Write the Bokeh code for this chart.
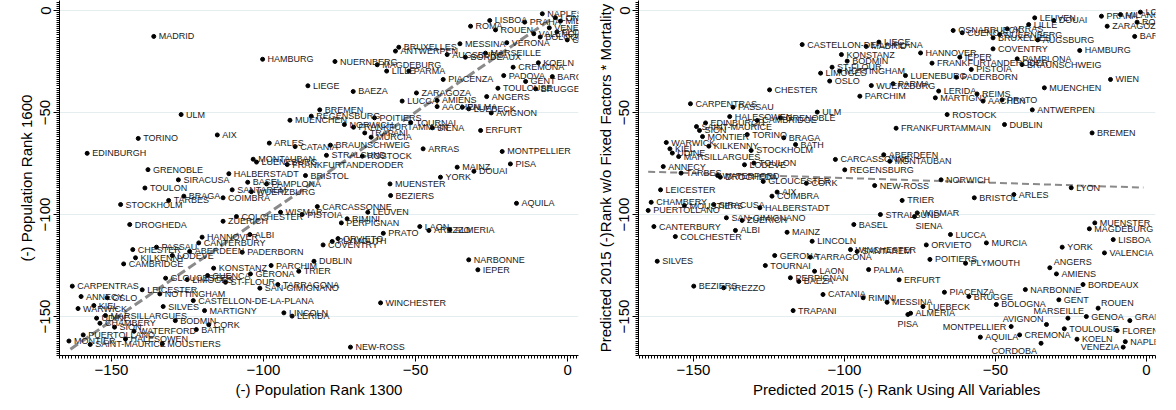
from bokeh.plotting import figure
from bokeh.models import ColumnDataSource, SingleIntervalTicker
from bokeh.layouts import row
from bokeh.core.properties import value
from bokeh.embed import file_html
from bokeh.resources import INLINE

# ---------------- data: left panel (rank 1300 vs rank 1600) ----------------
left_city = [
    "MADRID", "HAMBURG", "NUERNBERG", "LIEGE", "BAEZA", "LUCCA", "BREMEN", "REGENSBURG",
    "MUENCHEN", "NORWICH", "POITIERS", "FRANKFURTAMMAIN", "TOURNAI", "SIENA", "TRAPANI",
    "MURCIA", "ULM", "TORINO", "AIX", "EDINBURGH", "ARLES", "CATANIA", "BRAUNSCHWEIG",
    "STRALSUND", "ROSTOCK", "MONTAUBAN", "LUENEBURG", "FRANKFURTANDERODER", "GRENOBLE",
    "SIRACUSA", "HALBERSTADT", "BRISTOL", "BASEL", "PAMPLONA", "SANTAREM", "WUERZBURG",
    "MUENSTER", "TOULON", "COIMBRA", "BRAGA", "TARBES", "STOCKHOLM", "DROGHEDA", "ZUERICH",
    "COLCHESTER", "WISMAR", "PISTOIA", "CARCASSONNE", "LEUVEN", "RIMINI", "PERPIGNAN",
    "PRATO", "PLYMOUTH", "COVENTRY", "ORVIETO", "ALBI", "HANNOVER", "CANTERBURY", "ABERDEEN",
    "PADERBORN", "KONSTANZ", "PARCHIM", "DUBLIN", "TRIER", "GERONA", "CUENCA", "ST-FLOUR",
    "GLOUCESTER", "LIMOGES", "TARRAGONA", "SAN-GIMIGNANO", "CASTELLON-DE-LA-PLANA",
    "MARTIGNY", "LINCOLN", "LERIDA", "WINCHESTER", "NEW-ROSS", "CORK", "BATH", "BODMIN",
    "SILVES", "NOTTINGHAM", "LEICESTER", "CARPENTRAS", "ANNECY", "OSLO", "KIEL", "WARWICK",
    "UDINE", "MARSILLARGUES", "CHAMBERY", "SION", "WATERFORD", "HALESOWEN", "PUERTOLLANO",
    "MONTIER", "SAINT-MAURICE", "MOUSTIERS", "CHESTER", "PASSAU", "KILKENNY", "LODEVE",
    "CAMBRIDGE", "ROMA", "LISBOA", "ROUEN", "PRAHA", "NAPLES", "MILANO", "LONDON", "VENEZIA",
    "FLORENCE", "VALENCIA", "BOLOGNA", "GENOA", "VERONA", "MESSINA", "BRUXELLES", "ANTWERPEN",
    "AUGSBURG", "MARSEILLE", "BORDEAUX", "MAGDEBURG", "LILLE", "PARMA", "CREMONA", "KOELN",
    "PIACENZA", "PADOVA", "BARCELONA", "GENT", "TOULOUSE", "BRUGGE", "ANGERS", "ZARAGOZA",
    "AMIENS", "AACHEN", "PALMA", "LUEBECK", "AVIGNON", "ERFURT", "ARRAS", "MONTPELLIER",
    "PISA", "MAINZ", "DOUAI", "YORK", "BEZIERS", "AQUILA", "LAON", "AREZZO", "ALMERIA",
    "NARBONNE", "IEPER",
]
left_x = [
    -136.1, -100.3, -76.5, -85.4, -70.5, -54.4, -81.5, -84.3,
    -91.3, -73.4, -63.5, -70.4, -51.6, -44.5, -66.7,
    -64.6, -127.1, -141.2, -115.2, -158.0, -98.1, -89.6, -78.0,
    -79.3, -67.5, -103.4, -102.3, -92.2, -138.0,
    -128.0, -111.4, -86.2, -105.2, -99.0, -110.3, -104.0,
    -58.4, -139.0, -113.3, -126.2, -131.2, -147.0, -144.0, -113.3,
    -108.9, -94.4, -87.3, -82.3, -65.7, -72.5, -74.4,
    -60.6, -77.4, -80.4, -75.5, -104.5, -120.2, -121.3, -124.3,
    -107.0, -116.4, -97.5, -83.4, -88.4, -104.3, -118.4, -112.5,
    -132.2, -125.1, -95.3, -101.2, -123.1,
    -119.4, -93.3, -90.6, -61.5, -71.4, -118.0, -122.1, -129.0,
    -133.0, -134.1, -139.9, -162.9, -160.0, -151.4, -155.8, -161.0,
    -154.9, -152.0, -153.8, -149.0, -142.6, -145.4, -159.3,
    -164.0, -157.0, -133.3, -143.0, -135.2, -142.1, -130.0,
    -146.0, -31.9, -25.6, -23.7, -14.1, -8.3, -2.3, -4.0, -6.0,
    -3.5, -11.1, -9.0, -0.1, -20.0, -35.4, -55.5, -56.6,
    -39.6, -27.0, -33.6, -62.6, -59.5, -52.2, -17.9, -9.6,
    -40.9, -21.0, -5.0, -13.8, -22.9, -10.5, -26.6, -49.7,
    -42.9, -42.9, -34.6, -32.5, -25.1, -28.6, -47.5, -21.5,
    -18.8, -36.3, -30.8, -41.8, -58.2, -16.8, -48.6, -45.6, -38.7,
    -32.5, -29.5,
]
left_y = [
    -12.7, -23.9, -25.0, -36.9, -39.7, -44.4, -48.7, -51.8,
    -53.8, -55.9, -52.6, -57.2, -54.9, -57.5, -60.0,
    -62.1, -51.0, -62.7, -61.0, -70.0, -65.0, -66.7, -66.0,
    -71.0, -71.4, -72.9, -74.3, -75.5, -78.0,
    -83.0, -80.0, -80.9, -84.2, -85.0, -87.9, -88.8,
    -85.0, -87.0, -91.8, -91.0, -93.1, -95.1, -104.9, -103.3,
    -101.0, -98.9, -100.0, -96.1, -98.9, -102.1, -104.1,
    -109.2, -113.2, -114.9, -111.8, -109.8, -111.1, -113.9, -118.1,
    -118.5, -126.3, -125.0, -122.9, -127.8, -129.1, -129.9, -133.2,
    -131.2, -131.9, -134.3, -136.1, -142.2,
    -147.1, -148.2, -149.8, -143.3, -165.0, -154.0, -156.4, -152.0,
    -145.1, -138.9, -136.9, -135.1, -140.2, -140.8, -144.6, -146.1,
    -150.8, -149.5, -153.3, -155.2, -157.2, -161.0, -159.0,
    -162.0, -163.7, -163.4, -117.2, -116.0, -121.2, -120.1,
    -124.2, -7.7, -4.9, -9.5, -5.7, -1.6, -5.2, -3.5, -8.5,
    -10.5, -11.4, -13.0, -14.4, -15.8, -16.3, -18.0, -19.9,
    -21.6, -20.9, -22.9, -26.6, -29.7, -29.7, -27.8, -25.6,
    -33.8, -31.9, -32.4, -34.8, -38.1, -38.4, -42.2, -40.4,
    -44.1, -47.1, -47.4, -48.2, -50.2, -58.8, -67.8, -69.1,
    -75.2, -76.8, -78.8, -81.7, -90.7, -94.5, -105.9, -107.8, -107.5,
    -122.2, -127.1,
]
left_fit_x = [-163.5, -4.6]
left_fit_y = [-166.0, -3.4]

# ---------------- data: right panel (predicted ranks) ----------------
right_city = [
    "CASTELLON-DE-LA-PLANA", "CHESTER", "CARPENTRAS", "PASSAU", "HALESOWEN", "EDINBURGH",
    "CAMBRIDGE", "GRENOBLE", "ULM", "SAINT-MAURICE", "SION", "MONTIER", "TORINO", "BRAGA",
    "BATH", "WARWICK", "KIEL", "UDINE", "KILKENNY", "MARSILLARGUES", "STOCKHOLM", "TOULON",
    "LODEVE", "ANNECY", "TARBES", "DROGHEDA", "WATERFORD", "GLOUCESTER", "CORK", "NEW-ROSS",
    "NORWICH", "CARCASSONNE", "ABERDEEN", "MONTAUBAN", "REGENSBURG", "FRANKFURTAMMAIN",
    "ROSTOCK", "LIEGE", "MADRID", "KONSTANZ", "BODMIN", "ST-FLOUR", "NOTTINGHAM", "LIMOGES",
    "OSLO", "WUERZBURG", "PARMA", "PARCHIM", "LUENEBURG", "HANNOVER", "FRANKFURTANDERODER",
    "IEPER", "OSNABRUECK", "CUENCA", "PISTOIA", "PADERBORN", "LERIDA", "MARTIGNY", "REIMS",
    "AACHEN", "BRUXELLES", "COVENTRY", "LEUVEN", "LILLE", "DOUAI", "ARRAS", "NUERNBERG",
    "AUGSBURG", "HAMBURG", "PAMPLONA", "BRAUNSCHWEIG", "WIEN", "MUENCHEN", "PRATO",
    "ANTWERPEN", "DUBLIN", "BREMEN", "LYON", "PRAHA", "MILANO", "LONDON", "ROMA", "ZARAGOZA",
    "BARCELONA", "LEICESTER", "CHAMBERY", "PUERTOLLANO", "MOUSTIERS", "SIRACUSA",
    "HALBERSTADT", "AIX", "COIMBRA", "SAN-GIMIGNANO", "ZUERICH", "ALBI", "CANTERBURY",
    "COLCHESTER", "MAINZ", "SILVES", "GERONA", "TOURNAI", "PERPIGNAN", "BAEZA", "BEZIERS",
    "AREZZO", "TRAPANI", "LAON", "TARRAGONA", "LINCOLN", "CATANIA", "RIMINI", "MESSINA",
    "LUEBECK", "ALMERIA", "PISA", "WINCHESTER", "SANTAREM", "PALMA", "ERFURT", "BASEL",
    "STRALSUND", "WISMAR", "SIENA", "TRIER", "BRISTOL", "ARLES", "LUCCA", "ORVIETO", "MURCIA",
    "POITIERS", "PLYMOUTH", "PIACENZA", "BRUGGE", "MONTPELLIER", "AQUILA", "CREMONA",
    "CORDOBA", "AVIGNON", "MARSEILLE", "TOULOUSE", "GENOA", "GRANADA", "FLORENCE", "NAPLES",
    "VENEZIA", "KOELN", "GENT", "ROUEN", "BORDEAUX", "NARBONNE", "BOLOGNA", "AMIENS",
    "ANGERS", "YORK", "VALENCIA", "LISBOA", "MUENSTER", "MAGDEBURG",
]
right_x = [
    -114.0, -124.8, -151.0, -136.9, -138.0, -146.0,
    -128.9, -121.2, -109.0, -149.0, -148.0, -147.0, -132.2, -120.1,
    -116.2, -159.0, -157.8, -157.0, -144.9, -154.9, -130.9, -130.0,
    -133.1, -160.0, -154.1, -141.1, -142.0, -126.9, -112.6, -90.0,
    -68.0, -103.0, -87.0, -85.0, -99.9, -82.9,
    -66.0, -88.6, -92.8, -101.0, -99.1, -104.1, -101.6, -107.9,
    -104.9, -91.1, -83.9, -94.9, -79.8, -74.8, -71.0,
    -61.8, -64.0, -61.0, -58.0, -62.9, -68.8, -69.9, -56.1,
    -54.1, -50.8, -50.8, -37.0, -39.0, -30.7, -46.1, -48.6,
    -36.0, -22.1, -42.8, -41.2, -11.9, -33.8, -47.8,
    -37.8, -47.0, -18.0, -24.9, -14.9, -8.6, -2.0, -3.1, -13.0,
    -3.9, -160.9, -164.0, -165.0, -153.0, -143.3,
    -128.0, -122.3, -124.0, -139.1, -133.9, -136.1, -163.1,
    -156.0, -119.0, -162.0, -123.1, -126.2, -117.9, -115.1, -149.9,
    -140.0, -117.0, -109.9, -111.3, -110.7, -107.1, -93.8, -85.9,
    -74.0, -78.1, -79.0, -98.0, -95.8, -92.0, -81.9, -96.9,
    -88.1, -75.9, -76.8, -80.9, -57.0, -43.9, -64.9, -72.9, -53.0,
    -71.7, -59.9, -66.9, -58.8, -44.8, -55.0, -42.0,
    -34.9, -33.1, -26.0, -27.2, -19.9, -5.5, -9.7, -7.0,
    -7.7, -23.0, -29.0, -16.0, -21.0, -40.1, -49.7, -29.8,
    -32.0, -27.9, -13.9, -11.0, -17.1, -18.9,
]
right_y = [
    -16.7, -38.9, -45.7, -47.4, -52.0, -55.1,
    -53.9, -52.6, -49.8, -56.9, -58.8, -61.8, -60.8, -62.4,
    -65.7, -64.7, -67.8, -69.9, -66.5, -71.6, -68.6, -74.8,
    -75.6, -76.5, -79.7, -81.7, -80.9, -83.8, -84.7, -85.8,
    -83.0, -73.0, -70.7, -73.9, -78.1, -57.7,
    -51.0, -15.5, -17.6, -21.6, -24.8, -27.8, -29.7, -30.7,
    -34.6, -36.8, -35.9, -42.0, -31.9, -20.8, -25.8,
    -22.9, -9.8, -10.9, -28.9, -32.7, -39.5, -42.8, -40.9,
    -44.4, -13.4, -18.8, -3.6, -6.9, -4.9, -9.0, -11.8,
    -14.4, -19.6, -23.7, -26.5, -33.8, -37.9, -43.8,
    -48.7, -55.9, -60.0, -86.9, -2.8, -2.0, -0.8, -5.7, -7.7,
    -12.7, -87.9, -94.0, -98.0, -95.6, -95.1,
    -96.7, -89.0, -91.0, -101.6, -102.9, -107.8, -105.9,
    -110.8, -108.7, -122.9, -120.1, -125.0, -131.0, -132.8, -135.1,
    -135.9, -147.1, -127.8, -120.9, -113.1, -139.2, -140.8, -143.0,
    -145.1, -148.4, -149.0, -117.2, -118.1, -127.0, -132.0, -104.9,
    -100.0, -99.2, -101.0, -93.1, -91.8, -90.2, -109.8, -114.9, -113.9,
    -122.0, -123.9, -138.1, -140.2, -154.9, -160.1, -159.0,
    -163.1, -153.9, -150.8, -156.0, -150.0, -152.0, -156.9, -162.3,
    -165.0, -161.1, -141.8, -145.9, -134.3, -136.8, -144.1, -129.1,
    -126.1, -116.0, -118.8, -112.3, -104.1, -107.0,
]
right_fit_x = [-165.0, -1.0]
right_fit_y = [-79.0, -86.8]

tick_values = [-150, -100, -50, 0]

# label placement exceptions (pixel offsets, alignment) for the right panel
RIGHT_LABEL_POS = {
    "PISA": (0, 10, "center"),
    "SIENA": (1, 9, "left"),
    "MONTPELLIER": (-5, 0, "right"),
    "CORDOBA": (-4, 8, "right"),
    "AVIGNON": (-3, -5, "right"),
    "MARSEILLE": (16, -7, "right"),
    "VENEZIA": (-4, 0, "right"),
    "GRANADA": (5, -4, "left"),
    "ROUEN": (3, -5, "left"),
    "ANGERS": (4, -6, "left"),
}

FONT = "Liberation Sans"


def make_panel(cities, xs, ys, fit_x, fit_y, xr, yr, xlabel, ylabel, border_left,
               border_right, fit_width, fit_dash, label_pos):
    p = figure(width=588, height=410, x_range=xr, y_range=yr,
               output_backend="svg", toolbar_location=None,
               min_border_left=border_left, min_border_right=border_right,
               min_border_top=0, min_border_bottom=55)
    p.outline_line_color = None
    p.background_fill_color = "white"
    p.border_fill_color = "white"
    p.xgrid.grid_line_color = None
    p.ygrid.grid_line_color = "#e4edf0"
    p.ygrid.grid_line_width = 1

    for ax in (p.xaxis[0], p.yaxis[0]):
        ax.ticker = SingleIntervalTicker(interval=50, num_minor_ticks=50)
        ax.axis_line_color = "black"
        ax.major_tick_line_color = "black"
        ax.minor_tick_line_color = "black"
        ax.major_tick_out = 6
        ax.major_tick_in = 0
        ax.minor_tick_out = 3
        ax.minor_tick_in = 0
        ax.major_label_text_font = FONT
        ax.major_label_text_font_size = "15px"
        ax.major_label_text_color = "black"
        ax.axis_label_text_font = FONT
        ax.axis_label_text_font_size = "15px"
        ax.axis_label_text_font_style = "normal"
        ax.axis_label_text_color = "black"
        ax.major_label_standoff = 3
        ax.axis_label_standoff = 3
    p.xaxis.axis_label = xlabel
    p.yaxis.axis_label = ylabel
    p.yaxis.major_label_orientation = "vertical"

    dx, dy, al = [], [], []
    for c in cities:
        o = label_pos.get(c, (5, 0, "left"))
        dx.append(o[0]); dy.append(o[1]); al.append(o[2])
    src = ColumnDataSource(dict(x=xs, y=ys, name=cities, dx=dx, dy=dy, align=al))

    p.line(fit_x, fit_y, line_color="#8a8a8a", line_width=fit_width, line_dash=fit_dash)
    p.scatter("x", "y", source=src, size=4, color="black", marker="circle")
    p.text("x", "y", text="name", source=src, x_offset="dx", y_offset="dy",
           text_align="align", text_baseline="middle",
           text_font=value(FONT), text_font_size=value("9px"), text_color="#1a1a1a")
    return p


left = make_panel(left_city, left_x, left_y, left_fit_x, left_fit_y,
                  (-167.1, 3.6), (-169.1, 4.9),
                  "(-) Population Rank 1300", "(-) Population Rank 1600",
                  59, 10, 3, "9 4", {})
right = make_panel(right_city, right_x, right_y, right_fit_x, right_fit_y,
                   (-168.2, 3.0), (-169.1, 4.9),
                   "Predicted 2015 (-) Rank Using All Variables",
                   "Predicted 2015 (-)Rank w/o Fixed Factors * Mortality",
                   50, 21, 2, "7 4", RIGHT_LABEL_POS)

layout = row(left, right, spacing=0)
open("out.html", "w").write(file_html(layout, INLINE))
